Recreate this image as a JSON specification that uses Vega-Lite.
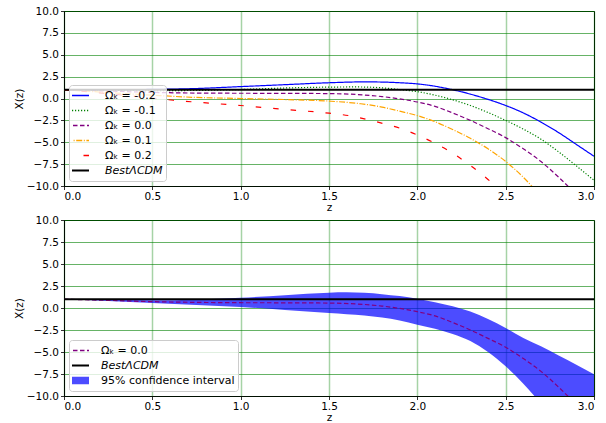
{
  "$schema": "https://vega.github.io/schema/vega-lite/v6.json",
  "padding": {"left": 13, "top": 5, "right": 5, "bottom": 5},
  "bounds": "flush",
  "spacing": 34,
  "resolve": {"scale": {"color": "independent", "strokeDash": "independent"}, "legend": {"color": "independent", "strokeDash": "independent"}},
  "config": {
    "font": "DejaVu Sans",
    "view": {"stroke": "black", "strokeWidth": 1},
    "axis": {
      "labelFont": "DejaVu Sans", "labelFontSize": 10.5, "labelColor": "black", "labelOverlap": false,
      "titleFont": "DejaVu Sans", "titleFontSize": 10.5, "titleFontWeight": "normal", "titleColor": "black",
      "tickColor": "black", "tickSize": 3.5, "tickWidth": 0.8, "labelPadding": 2,
      "domainColor": "black", "domainWidth": 0.8, "titlePadding": 2
    },
    "axisX": {"gridColor": "green", "gridOpacity": 0.35, "gridWidth": 1.5, "titlePadding": 0},
    "axisY": {"gridColor": "green", "gridOpacity": 0.6, "gridWidth": 1},
    "legend": {"zindex": 1}
  },
  "datasets": {
    "top": [
      {"series": "Ωₖ = -0.2", "z": 0, "X": 1.0}, {"series": "Ωₖ = -0.2", "z": 0.25, "X": 1.0}, {"series": "Ωₖ = -0.2", "z": 0.5, "X": 1.04}, {"series": "Ωₖ = -0.2", "z": 0.75, "X": 1.14}, {"series": "Ωₖ = -0.2", "z": 1.0, "X": 1.36}, {"series": "Ωₖ = -0.2", "z": 1.25, "X": 1.58}, {"series": "Ωₖ = -0.2", "z": 1.5, "X": 1.8}, {"series": "Ωₖ = -0.2", "z": 1.7, "X": 1.9}, {"series": "Ωₖ = -0.2", "z": 1.8, "X": 1.88}, {"series": "Ωₖ = -0.2", "z": 1.9, "X": 1.8}, {"series": "Ωₖ = -0.2", "z": 2.0, "X": 1.67}, {"series": "Ωₖ = -0.2", "z": 2.1, "X": 1.4}, {"series": "Ωₖ = -0.2", "z": 2.2, "X": 1.0}, {"series": "Ωₖ = -0.2", "z": 2.3, "X": 0.5}, {"series": "Ωₖ = -0.2", "z": 2.4, "X": -0.1}, {"series": "Ωₖ = -0.2", "z": 2.5, "X": -0.8}, {"series": "Ωₖ = -0.2", "z": 2.6, "X": -1.65}, {"series": "Ωₖ = -0.2", "z": 2.7, "X": -2.7}, {"series": "Ωₖ = -0.2", "z": 2.8, "X": -3.9}, {"series": "Ωₖ = -0.2", "z": 2.9, "X": -5.25}, {"series": "Ωₖ = -0.2", "z": 3.0, "X": -6.6},
      {"series": "Ωₖ = -0.1", "z": 0, "X": 1.0}, {"series": "Ωₖ = -0.1", "z": 0.25, "X": 0.95}, {"series": "Ωₖ = -0.1", "z": 0.5, "X": 0.9}, {"series": "Ωₖ = -0.1", "z": 0.75, "X": 0.92}, {"series": "Ωₖ = -0.1", "z": 1.0, "X": 1.03}, {"series": "Ωₖ = -0.1", "z": 1.25, "X": 1.2}, {"series": "Ωₖ = -0.1", "z": 1.5, "X": 1.3}, {"series": "Ωₖ = -0.1", "z": 1.65, "X": 1.32}, {"series": "Ωₖ = -0.1", "z": 1.8, "X": 1.22}, {"series": "Ωₖ = -0.1", "z": 1.9, "X": 1.02}, {"series": "Ωₖ = -0.1", "z": 2.0, "X": 0.78}, {"series": "Ωₖ = -0.1", "z": 2.1, "X": 0.38}, {"series": "Ωₖ = -0.1", "z": 2.2, "X": -0.15}, {"series": "Ωₖ = -0.1", "z": 2.3, "X": -0.8}, {"series": "Ωₖ = -0.1", "z": 2.4, "X": -1.6}, {"series": "Ωₖ = -0.1", "z": 2.5, "X": -2.5}, {"series": "Ωₖ = -0.1", "z": 2.6, "X": -3.5}, {"series": "Ωₖ = -0.1", "z": 2.7, "X": -4.65}, {"series": "Ωₖ = -0.1", "z": 2.8, "X": -6.1}, {"series": "Ωₖ = -0.1", "z": 2.9, "X": -7.7}, {"series": "Ωₖ = -0.1", "z": 3.0, "X": -9.35},
      {"series": "Ωₖ = 0.0", "z": 0, "X": 1.0}, {"series": "Ωₖ = 0.0", "z": 0.25, "X": 0.85}, {"series": "Ωₖ = 0.0", "z": 0.5, "X": 0.7}, {"series": "Ωₖ = 0.0", "z": 0.75, "X": 0.62}, {"series": "Ωₖ = 0.0", "z": 1.0, "X": 0.6}, {"series": "Ωₖ = 0.0", "z": 1.25, "X": 0.59}, {"series": "Ωₖ = 0.0", "z": 1.5, "X": 0.56}, {"series": "Ωₖ = 0.0", "z": 1.7, "X": 0.4}, {"series": "Ωₖ = 0.0", "z": 1.8, "X": 0.22}, {"series": "Ωₖ = 0.0", "z": 1.9, "X": -0.05}, {"series": "Ωₖ = 0.0", "z": 2.0, "X": -0.4}, {"series": "Ωₖ = 0.0", "z": 2.1, "X": -0.9}, {"series": "Ωₖ = 0.0", "z": 2.2, "X": -1.65}, {"series": "Ωₖ = 0.0", "z": 2.3, "X": -2.5}, {"series": "Ωₖ = 0.0", "z": 2.4, "X": -3.45}, {"series": "Ωₖ = 0.0", "z": 2.5, "X": -4.47}, {"series": "Ωₖ = 0.0", "z": 2.6, "X": -5.75}, {"series": "Ωₖ = 0.0", "z": 2.7, "X": -7.2}, {"series": "Ωₖ = 0.0", "z": 2.8, "X": -9.0}, {"series": "Ωₖ = 0.0", "z": 2.9, "X": -11.0}, {"series": "Ωₖ = 0.0", "z": 3.0, "X": -13.3},
      {"series": "Ωₖ = 0.1", "z": 0, "X": 1.0}, {"series": "Ωₖ = 0.1", "z": 0.25, "X": 0.68}, {"series": "Ωₖ = 0.1", "z": 0.5, "X": 0.38}, {"series": "Ωₖ = 0.1", "z": 0.75, "X": 0.12}, {"series": "Ωₖ = 0.1", "z": 1.0, "X": 0.0}, {"series": "Ωₖ = 0.1", "z": 1.25, "X": -0.12}, {"series": "Ωₖ = 0.1", "z": 1.5, "X": -0.3}, {"series": "Ωₖ = 0.1", "z": 1.68, "X": -0.6}, {"series": "Ωₖ = 0.1", "z": 1.8, "X": -0.98}, {"series": "Ωₖ = 0.1", "z": 1.9, "X": -1.45}, {"series": "Ωₖ = 0.1", "z": 2.0, "X": -1.95}, {"series": "Ωₖ = 0.1", "z": 2.1, "X": -2.65}, {"series": "Ωₖ = 0.1", "z": 2.2, "X": -3.55}, {"series": "Ωₖ = 0.1", "z": 2.3, "X": -4.55}, {"series": "Ωₖ = 0.1", "z": 2.4, "X": -5.75}, {"series": "Ωₖ = 0.1", "z": 2.5, "X": -7.2}, {"series": "Ωₖ = 0.1", "z": 2.6, "X": -9.0}, {"series": "Ωₖ = 0.1", "z": 2.7, "X": -11.2},
      {"series": "Ωₖ = 0.2", "z": 0, "X": 1.0}, {"series": "Ωₖ = 0.2", "z": 0.25, "X": 0.55}, {"series": "Ωₖ = 0.2", "z": 0.5, "X": 0.05}, {"series": "Ωₖ = 0.2", "z": 0.62, "X": -0.2}, {"series": "Ωₖ = 0.2", "z": 0.75, "X": -0.42}, {"series": "Ωₖ = 0.2", "z": 1.0, "X": -0.8}, {"series": "Ωₖ = 0.2", "z": 1.25, "X": -1.25}, {"series": "Ωₖ = 0.2", "z": 1.5, "X": -1.68}, {"series": "Ωₖ = 0.2", "z": 1.625, "X": -2.0}, {"series": "Ωₖ = 0.2", "z": 1.72, "X": -2.42}, {"series": "Ωₖ = 0.2", "z": 1.81, "X": -2.88}, {"series": "Ωₖ = 0.2", "z": 1.91, "X": -3.45}, {"series": "Ωₖ = 0.2", "z": 2.0, "X": -4.17}, {"series": "Ωₖ = 0.2", "z": 2.1, "X": -5.11}, {"series": "Ωₖ = 0.2", "z": 2.2, "X": -6.25}, {"series": "Ωₖ = 0.2", "z": 2.3, "X": -7.65}, {"series": "Ωₖ = 0.2", "z": 2.4, "X": -9.25}, {"series": "Ωₖ = 0.2", "z": 2.5, "X": -11.0},
      {"series": "BestΛCDM", "z": 0, "X": 1.0}, {"series": "BestΛCDM", "z": 3.0, "X": 1.0}
    ],
    "band": [
      {"z": 0, "lo": 1.0, "hi": 1.0}, {"z": 0.25, "lo": 0.8, "hi": 0.93}, {"z": 0.5, "lo": 0.57, "hi": 0.87}, {"z": 0.75, "lo": 0.35, "hi": 0.98}, {"z": 1.0, "lo": 0.11, "hi": 1.17}, {"z": 1.25, "lo": -0.22, "hi": 1.46}, {"z": 1.5, "lo": -0.57, "hi": 1.74}, {"z": 1.6, "lo": -0.7, "hi": 1.78}, {"z": 1.7, "lo": -0.85, "hi": 1.72}, {"z": 1.8, "lo": -1.08, "hi": 1.57}, {"z": 1.9, "lo": -1.42, "hi": 1.35}, {"z": 2.0, "lo": -1.89, "hi": 1.06}, {"z": 2.1, "lo": -2.35, "hi": 0.66}, {"z": 2.2, "lo": -2.95, "hi": 0.2}, {"z": 2.3, "lo": -3.75, "hi": -0.4}, {"z": 2.4, "lo": -5.0, "hi": -1.25}, {"z": 2.5, "lo": -6.63, "hi": -2.27}, {"z": 2.6, "lo": -8.6, "hi": -3.4}, {"z": 2.7, "lo": -10.9, "hi": -4.35}, {"z": 2.8, "lo": -13.5, "hi": -5.4}, {"z": 2.9, "lo": -16.3, "hi": -6.45}, {"z": 3.0, "lo": -19.5, "hi": -7.54}
    ],
    "mid": [
      {"series": "Ωₖ = 0.0", "z": 0, "X": 1.0}, {"series": "Ωₖ = 0.0", "z": 0.25, "X": 0.87}, {"series": "Ωₖ = 0.0", "z": 0.5, "X": 0.72}, {"series": "Ωₖ = 0.0", "z": 0.75, "X": 0.64}, {"series": "Ωₖ = 0.0", "z": 1.0, "X": 0.6}, {"series": "Ωₖ = 0.0", "z": 1.25, "X": 0.59}, {"series": "Ωₖ = 0.0", "z": 1.5, "X": 0.56}, {"series": "Ωₖ = 0.0", "z": 1.7, "X": 0.4}, {"series": "Ωₖ = 0.0", "z": 1.8, "X": 0.22}, {"series": "Ωₖ = 0.0", "z": 1.9, "X": -0.05}, {"series": "Ωₖ = 0.0", "z": 2.0, "X": -0.42}, {"series": "Ωₖ = 0.0", "z": 2.1, "X": -0.9}, {"series": "Ωₖ = 0.0", "z": 2.2, "X": -1.65}, {"series": "Ωₖ = 0.0", "z": 2.3, "X": -2.5}, {"series": "Ωₖ = 0.0", "z": 2.4, "X": -3.45}, {"series": "Ωₖ = 0.0", "z": 2.5, "X": -4.45}, {"series": "Ωₖ = 0.0", "z": 2.6, "X": -5.75}, {"series": "Ωₖ = 0.0", "z": 2.7, "X": -7.2}, {"series": "Ωₖ = 0.0", "z": 2.8, "X": -9.0}, {"series": "Ωₖ = 0.0", "z": 2.9, "X": -11.0}, {"series": "Ωₖ = 0.0", "z": 3.0, "X": -13.3}
    ],
    "best": [
      {"series": "BestΛCDM", "z": 0, "X": 1.0}, {"series": "BestΛCDM", "z": 3.0, "X": 1.0}
    ]
  },
  "vconcat": [
    {
      "width": 530,
      "height": 175,
      "data": {"name": "top"},
      "mark": {"type": "line", "clip": true, "interpolate": "monotone"},
      "encoding": {
        "x": {"field": "z", "type": "quantitative", "scale": {"domain": [0, 3], "nice": false}, "axis": {"title": "z", "values": [0, 0.5, 1, 1.5, 2, 2.5, 3], "format": ".1f"}},
        "y": {"field": "X", "type": "quantitative", "scale": {"domain": [-10, 10], "nice": false}, "axis": {"title": "X(z)", "values": [-10, -7.5, -5, -2.5, 0, 2.5, 5, 7.5, 10], "format": ".1f", "labelOverlap": false}},
        "color": {
          "field": "series", "type": "nominal",
          "scale": {"domain": ["Ωₖ = -0.2", "Ωₖ = -0.1", "Ωₖ = 0.0", "Ωₖ = 0.1", "Ωₖ = 0.2", "BestΛCDM"], "range": ["blue", "green", "purple", "orange", "red", "black"]},
          "legend": {
            "title": null, "orient": "bottom-left", "offset": 5, "zindex": 1, "padding": 3,
            "fillColor": "rgba(255,255,255,0.8)", "strokeColor": "#cccccc", "cornerRadius": 3,
            "symbolType": "stroke", "symbolSize": 529, "symbolStrokeWidth": 1.5, "clipHeight": 15, "rowPadding": 0,
            "labelFontSize": 11, "labelOffset": 22, "labelFont": "DejaVu Sans", "labelColor": "black", "labelLimit": 300,
            "encode": {
              "symbols": {"update": {
                "strokeWidth": {"signal": "datum.label === 'BestΛCDM' ? 2 : 1.5"},
                "strokeDash": {"signal": "datum.label === 'Ωₖ = -0.1' ? [1.5, 2] : datum.label === 'Ωₖ = 0.0' ? [5, 2.5] : datum.label === 'Ωₖ = 0.1' ? [7, 2, 1.5, 2] : datum.label === 'Ωₖ = 0.2' ? [6, 11] : [1, 0]"},
                "opacity": {"value": 1}
              }},
              "labels": {"update": {"fontStyle": {"signal": "datum.label === 'BestΛCDM' ? 'italic' : 'normal'"}}}
            }
          }
        },
        "strokeDash": {
          "field": "series", "type": "nominal",
          "scale": {"domain": ["Ωₖ = -0.2", "Ωₖ = -0.1", "Ωₖ = 0.0", "Ωₖ = 0.1", "Ωₖ = 0.2", "BestΛCDM"], "range": [[1, 0], [1.2, 1.8], [4.5, 2.5], [6, 1.6, 1, 1.6], [5.5, 12], [1, 0]]},
          "legend": null
        },
        "strokeWidth": {"condition": {"test": "datum.series === 'BestΛCDM'", "value": 2}, "value": 1.2}
      }
    },
    {
      "width": 530,
      "height": 176,
      "encoding": {
        "x": {"field": "z", "type": "quantitative", "scale": {"domain": [0, 3], "nice": false}, "axis": {"title": "z", "values": [0, 0.5, 1, 1.5, 2, 2.5, 3], "format": ".1f"}}
      },
      "layer": [
        {
          "data": {"name": "band"},
          "mark": {"type": "area", "clip": true, "interpolate": "monotone", "opacity": 0.7},
          "encoding": {
            "y": {"field": "lo", "type": "quantitative", "scale": {"domain": [-10, 10], "nice": false}, "axis": {"title": "X(z)", "values": [-10, -7.5, -5, -2.5, 0, 2.5, 5, 7.5, 10], "format": ".1f", "labelOverlap": false}},
            "y2": {"field": "hi"},
            "color": {
              "datum": "95% confidence interval", "type": "nominal",
              "scale": {"domain": ["Ωₖ = 0.0", "BestΛCDM", "95% confidence interval"], "range": ["purple", "black", "blue"]},
              "legend": {
                "title": null, "orient": "bottom-left", "offset": 5, "zindex": 1, "padding": 3,
                "fillColor": "rgba(255,255,255,0.8)", "strokeColor": "#cccccc", "cornerRadius": 3,
                "symbolSize": 529, "clipHeight": 15, "rowPadding": 0,
                "labelFontSize": 11, "labelOffset": 18, "labelFont": "DejaVu Sans", "labelColor": "black", "labelLimit": 300,
                "encode": {
                  "symbols": {"update": {
                    "shape": {"signal": "datum.label === '95% confidence interval' ? 'M-1,-0.33H1V0.33H-1Z' : 'stroke'"},
                    "fill": {"signal": "datum.label === '95% confidence interval' ? 'blue' : 'transparent'"},
                    "fillOpacity": {"signal": "datum.label === '95% confidence interval' ? 0.7 : 0"},
                    "stroke": {"signal": "datum.label === 'Ωₖ = 0.0' ? 'purple' : (datum.label === 'BestΛCDM' ? 'black' : 'transparent')"},
                    "strokeDash": {"signal": "datum.label === 'Ωₖ = 0.0' ? [4.5, 2.5] : [1, 0]"},
                    "strokeWidth": {"signal": "datum.label === 'BestΛCDM' ? 2 : (datum.label === 'Ωₖ = 0.0' ? 1.3 : 0)"},
                    "opacity": {"value": 1}
                  }},
                  "labels": {"update": {"fontStyle": {"signal": "datum.label === 'BestΛCDM' ? 'italic' : 'normal'"}}}
                }
              }
            }
          }
        },
        {
          "data": {"name": "mid"},
          "mark": {"type": "line", "clip": true, "interpolate": "monotone", "strokeDash": [4.5, 2.5], "strokeWidth": 1.2},
          "encoding": {
            "y": {"field": "X", "type": "quantitative", "axis": {"title": "X(z)", "values": [-10, -7.5, -5, -2.5, 0, 2.5, 5, 7.5, 10], "format": ".1f", "labelOverlap": false}},
            "color": {
              "datum": "Ωₖ = 0.0", "type": "nominal",
              "legend": {
                "title": null, "orient": "bottom-left", "offset": 5, "zindex": 1, "padding": 3,
                "fillColor": "rgba(255,255,255,0.8)", "strokeColor": "#cccccc", "cornerRadius": 3,
                "symbolSize": 529, "clipHeight": 15, "rowPadding": 0,
                "labelFontSize": 11, "labelOffset": 18, "labelFont": "DejaVu Sans", "labelColor": "black", "labelLimit": 300,
                "encode": {
                  "symbols": {"update": {
                    "shape": {"signal": "datum.label === '95% confidence interval' ? 'M-1,-0.33H1V0.33H-1Z' : 'stroke'"},
                    "fill": {"signal": "datum.label === '95% confidence interval' ? 'blue' : 'transparent'"},
                    "fillOpacity": {"signal": "datum.label === '95% confidence interval' ? 0.7 : 0"},
                    "stroke": {"signal": "datum.label === 'Ωₖ = 0.0' ? 'purple' : (datum.label === 'BestΛCDM' ? 'black' : 'transparent')"},
                    "strokeDash": {"signal": "datum.label === 'Ωₖ = 0.0' ? [4.5, 2.5] : [1, 0]"},
                    "strokeWidth": {"signal": "datum.label === 'BestΛCDM' ? 2 : (datum.label === 'Ωₖ = 0.0' ? 1.3 : 0)"},
                    "opacity": {"value": 1}
                  }},
                  "labels": {"update": {"fontStyle": {"signal": "datum.label === 'BestΛCDM' ? 'italic' : 'normal'"}}}
                }
              }
            }
          }
        },
        {
          "data": {"name": "best"},
          "mark": {"type": "line", "clip": true, "strokeWidth": 2},
          "encoding": {
            "y": {"field": "X", "type": "quantitative", "axis": {"title": "X(z)", "values": [-10, -7.5, -5, -2.5, 0, 2.5, 5, 7.5, 10], "format": ".1f", "labelOverlap": false}},
            "color": {
              "datum": "BestΛCDM", "type": "nominal",
              "legend": {
                "title": null, "orient": "bottom-left", "offset": 5, "zindex": 1, "padding": 3,
                "fillColor": "rgba(255,255,255,0.8)", "strokeColor": "#cccccc", "cornerRadius": 3,
                "symbolSize": 529, "clipHeight": 15, "rowPadding": 0,
                "labelFontSize": 11, "labelOffset": 18, "labelFont": "DejaVu Sans", "labelColor": "black", "labelLimit": 300,
                "encode": {
                  "symbols": {"update": {
                    "shape": {"signal": "datum.label === '95% confidence interval' ? 'M-1,-0.33H1V0.33H-1Z' : 'stroke'"},
                    "fill": {"signal": "datum.label === '95% confidence interval' ? 'blue' : 'transparent'"},
                    "fillOpacity": {"signal": "datum.label === '95% confidence interval' ? 0.7 : 0"},
                    "stroke": {"signal": "datum.label === 'Ωₖ = 0.0' ? 'purple' : (datum.label === 'BestΛCDM' ? 'black' : 'transparent')"},
                    "strokeDash": {"signal": "datum.label === 'Ωₖ = 0.0' ? [4.5, 2.5] : [1, 0]"},
                    "strokeWidth": {"signal": "datum.label === 'BestΛCDM' ? 2 : (datum.label === 'Ωₖ = 0.0' ? 1.3 : 0)"},
                    "opacity": {"value": 1}
                  }},
                  "labels": {"update": {"fontStyle": {"signal": "datum.label === 'BestΛCDM' ? 'italic' : 'normal'"}}}
                }
              }
            }
          }
        }
      ]
    }
  ]
}
